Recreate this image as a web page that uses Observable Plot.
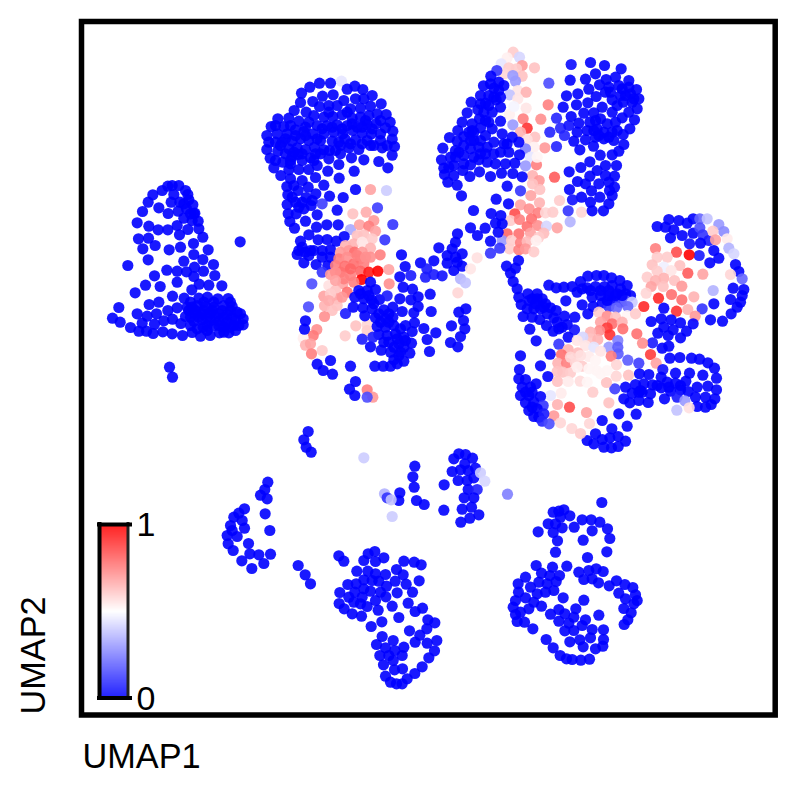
<!DOCTYPE html>
<html><head><meta charset="utf-8">
<script src="https://cdn.jsdelivr.net/npm/d3@7"></script>
<script src="https://cdn.jsdelivr.net/npm/@observablehq/plot@0.6"></script>
<style>html,body{margin:0;background:#fff}svg{display:block}</style>
</head><body><div id="chart"></div>
<script>
// Points, cluster by cluster: [u, v] (expression 0) or [u, v, expression].
// u/v are read-off units local to each cluster (3 units = 1 unit of the shared UMAP axes).
const bell = [[245,45],[265,45],[232,47],[215,60],[187,73],[285,60],[292,72],[250,72],[173,95],[242,95],[268,95],[295,88],[307,103],[205,112],[156,123],[233,129],[263,122],[288,115],[313,128],[140,157],[280,143],[305,150],[323,152],[175,167],[260,165],[203,178],[232,178],[292,177],[325,175],[267,193],[337,200],[144,205],[174,203],[194,225],[157,235],[236,238],[270,230],[309,219],[310,252],[353,238],[173,268],[280,272],[337,267],[112,285],[369,282],[229,299],[260,302],[288,304],[312,290],[339,302],[310,318],[373,315],[192,316],[260,335],[165,344],[209,348],[326,341],[355,344],[394,346],[304,358],[134,367],[246,377],[281,383],[325,383],[351,380],[382,385],[413,384],[176,402],[205,395],[85,411],[232,420],[260,412],[300,395],[320,405],[345,408],[370,410],[400,405],[425,408],[295,420],[140,430],[170,437],[198,430],[66,443],[89,455],[246,446],[285,438],[310,428],[335,430],[360,428],[385,430],[410,432],[440,425],[155,458],[192,461],[220,451],[271,459],[310,452],[335,448],[360,450],[385,452],[410,455],[435,450],[458,445],[120,471],[145,482],[168,482],[188,489],[217,484],[245,490],[276,495],[305,486],[330,497],[359,495],[387,487],[415,487],[435,480],[458,463],[338,470],[370,465],[400,470],[430,465],[237,590],[246,620],[449,214],[290,410],[315,420],[340,420],[365,420],[395,420],[420,420],[300,440],[325,440],[350,440],[375,440],[400,442],[425,442],[450,430],[300,465],[350,465],[385,465],[415,470],[445,465],[320,475],[280,100],[310,130],[300,130],[350,480],[400,485],[420,395],[370,395],[340,395],[305,410]];
const cap = [[258,32,.45],[192,38],[225,38],[163,50],[138,68],[275,56],[298,47],[322,57],[350,75],[201,77],[233,73],[300,85],[325,85],[135,96],[172,93],[265,90],[377,100],[192,108],[220,105],[245,105],[315,113],[345,107],[285,115],[116,120],[152,125],[392,132],[67,145],[100,143],[175,135],[205,140],[232,138],[260,133],[290,143],[315,140],[340,135],[365,130],[404,155],[47,168],[85,168],[130,152],[160,155],[185,165],[215,165],[245,163],[275,165],[305,170],[335,162],[362,160],[390,172],[34,195],[65,190],[95,190],[120,178],[145,183],[172,190],[205,190],[235,185],[262,190],[292,180],[320,188],[348,190],[375,190],[412,182],[40,215],[80,215],[110,212],[135,205],[160,210],[195,210],[230,212],[268,205],[300,208],[335,210],[375,210],[410,206],[34,237],[67,242],[100,235],[125,232],[150,237],[177,230],[205,238],[222,240],[255,225],[280,232],[310,237],[345,225],[380,232],[417,228],[44,263],[82,275],[110,258],[128,252],[165,262],[195,250],[220,265],[255,250],[288,262],[325,268],[370,273],[410,254],[55,292],[105,280],[130,297],[160,297],[185,285],[250,282],[100,298],[76,315],[217,302],[296,302],[397,292],[105,325],[140,330],[180,321],[251,323],[94,348],[158,350],[205,344],[128,360],[97,373],[300,357],[345,357,.68],[393,360,.4],[152,381],[181,370],[222,377],[263,381],[95,402],[120,395],[200,400,.12],[366,412,.12],[145,415],[167,405],[98,430],[122,430],[185,433],[245,419],[292,430,.62],[332,425,.66],[355,450,.7],[103,453],[150,452],[412,462,.1],[117,473],[183,470],[214,463],[248,463],[285,477,.33],[312,463,.68],[340,467,.75],[360,482,.68],[220,125],[275,125],[330,150],[375,150],[60,215],[60,165],[105,165],[150,170],[200,175],[230,170],[260,175],[290,160],[320,170],[350,175],[90,205],[120,195],[150,195],[185,205],[250,215],[285,220],[320,220],[355,225],[395,225],[90,250],[115,245],[140,250],[180,250],[240,240],[75,225],[140,270],[105,270],[60,270],[175,270],[115,345],[130,410],[110,380],[170,390],[140,395]];
const midLeft = [[70,103],[45,122],[98,118],[125,117],[152,122],[176,108],[35,162],[60,155],[85,150],[110,150],[135,147],[55,187],[92,192],[127,195],[50,140],[70,165],[40,150],[75,150],[110,170],[135,170],[110,215,.1],[79,250,.15],[69,319,.15],[298,118,.1],[215,105,.62],[235,103,.62],[260,115,.6],[180,135,.65],[205,130,.65],[230,125,.55],[255,143,.65],[165,155,.7],[190,150,.7],[207,155,.78],[230,155,.7],[284,163,.75],[255,170,.72],[160,175,.75],[185,170,.72],[225,175,.75],[150,195,.75],[178,197,.78],[205,190,.78],[235,190,.75],[310,207,.68],[135,222,.7],[165,215,.78],[195,225,.75],[225,212,.8],[250,215,.95],[277,212,1],[228,237,1],[130,255,.56],[172,250,.68],[205,245,.75],[311,250,.72],[150,270,.62],[185,275,.78],[115,287,.68],[155,295,.68],[117,316,.65],[140,330,.62],[155,315,.62],[117,348,.72],[150,215,.72],[175,235,.75],[195,205,.8],[215,165,.75],[240,170,.72],[150,240,.68],[135,280,.6],[130,300,.66],[170,290,.7],[94,387,.72],[83,405,.76],[53,413,.53],[60,434,.65],[75,430,.68],[110,450,.6],[78,460,.75],[211,376,.62],[245,372,.58],[245,390,.6],[179,406,.6],[255,245],[220,270],[245,270],[270,267],[208,290],[235,295],[258,298],[282,297],[305,286,.05],[343,295],[203,320],[232,322],[260,325],[295,328],[322,320],[180,339,.05],[238,346],[270,352],[300,355],[322,350],[350,333],[275,378],[300,380],[325,375],[360,375],[387,367],[385,337],[415,384],[280,402],[305,405],[330,400],[355,410],[380,393],[310,425],[340,430],[378,428],[425,417],[451,397],[255,439],[287,449],[315,455],[345,455],[373,458],[432,453],[325,478],[355,482],[335,490],[268,497],[293,497],[315,497],[225,280],[250,285],[265,310],[280,340],[310,340],[285,365],[310,365],[345,385],[335,415],[360,420],[295,425],[325,440],[355,440],[340,465],[230,416,.05],[262,410,.05],[348,163],[359,198],[343,229],[376,225,.05],[353,260],[381,266],[398,289],[376,298],[398,318],[434,281],[437,333],[405,187],[445,181],[424,205,.05],[420,230,.05],[445,222,.05],[470,226,.03],[460,142],[485,165],[500,145],[510,125],[516,100],[530,160],[485,188],[510,170],[505,210],[530,197],[515,185],[555,205,.55],[575,172,.56],[525,235,.35],[540,247,.38],[517,277,.58],[520,335],[541,325],[534,360],[538,385],[498,376],[525,408],[495,426],[517,439],[195,497],[135,480],[95,491],[113,510],[141,521],[210,543],[192,566],[208,585],[245,568,.75],[262,590,.7],[245,590,.15],[60,361],[57,386]];
const topRightPink = [[248,35,.6],[230,52,.53],[267,50,.42],[212,70,.45],[275,75,.7],[312,82,.62],[235,82,.6],[222,100,.58],[258,85,.6],[275,107,.62],[247,105,.3],[255,122,.3],[262,150,.55],[287,155,.65],[237,163,.38],[262,175,.55],[287,203,.55],[237,222,.53],[250,198,.48],[199,90,.1],[353,193,.75],[355,128,.15],[278,235,.75],[331,236,.72],[247,253,.3],[290,263,.9],[270,275,.65],[313,290,.62],[290,297,.56],[343,322,.7],[310,320,.53],[285,325,.25],[300,350,.45],[285,376,.3],[318,373,.75],[320,350,.52],[306,405,.65],[372,410,.82],[326,420,.7],[306,430,.62],[328,447,.62],[301,465,.68],[270,451,.1],[387,480,.6],[327,487,.65],[270,493,.68],[296,505,.72],[323,517,.75],[253,520,.85],[240,540,.6],[267,537,.75],[345,517,.58],[367,515,.6],[303,535,.78],[290,558,.78],[322,555,.72],[348,557,.42],[380,562,.68],[453,515,.58],[419,544,.35],[413,511,.1],[230,580,.8],[265,580,.78],[300,578,.68],[340,578,.63],[325,590,.6],[215,600,.3],[243,600,.6],[270,607,.75],[290,603,.63],[317,600,.53],[237,625,.6],[265,628,.75],[285,625,.7],[310,634,.6],[208,623,.1],[180,638,.1],[180,602],[203,575],[215,550],[195,548],[211,525],[182,519],[164,563],[141,585],[120,562],[129,510],[197,476],[234,490],[93,466],[230,437]];
const topLeftLobe = [[181,107],[205,125],[159,136],[220,135],[190,143],[150,165],[205,150],[122,185],[175,165],[165,188],[197,178],[210,200],[142,208],[185,215],[110,217],[160,215],[147,235],[210,242],[95,245],[175,245],[125,250],[82,270],[115,275],[150,262],[185,265],[57,291],[100,288],[130,300],[165,285],[215,280],[245,290],[80,302],[145,320],[190,305],[220,310],[37,323],[100,315],[120,325],[170,320],[60,350],[85,335],[210,335],[235,335],[265,305],[267,343],[33,358],[70,375],[100,345],[145,358],[170,365],[195,370],[225,370],[253,368],[40,383],[97,390],[120,373],[42,402],[70,405],[147,394],[118,408],[180,408],[213,398],[247,399],[275,409],[52,425],[80,434],[130,350],[150,340],[180,130],[190,170],[150,190],[125,270],[130,275],[75,330],[100,370],[165,340],[190,340],[230,310],[75,350],[55,380],[175,195],[210,170],[165,240],[120,300],[150,300]];
const topRightLobe = [[422,72,.02],[480,66],[522,75],[572,85],[495,100],[419,119],[465,116],[527,117],[555,110],[595,120],[507,133],[535,140],[565,135],[475,146],[408,166],[442,160],[525,155],[595,140],[618,147],[497,168],[545,178],[570,165],[600,160],[625,175],[398,200],[438,193],[472,187],[515,200],[578,185],[620,205],[605,185],[460,218],[490,217],[545,215],[378,233,.07],[422,228],[510,235],[575,232],[612,238],[390,263,.07],[415,255,.03],[445,248],[478,245],[530,250],[555,245],[598,265],[358,275,.07],[440,275],[470,270],[500,265],[520,275],[545,275],[578,282],[402,285,.07],[430,302],[465,298],[495,290],[520,295],[550,300],[580,312],[378,318,.07],[448,328],[489,317],[565,332],[509,344],[545,343],[478,364],[451,381],[525,375],[558,375],[416,394],[500,390],[478,407],[525,405],[552,407],[441,423],[465,430],[505,430],[535,425],[552,440],[417,447],[483,451],[537,450],[453,470],[508,470],[545,465],[426,478,.03],[480,485],[535,490],[485,511],[519,511],[575,145],[585,165],[610,175],[560,195],[540,155],[495,240],[490,270],[505,285],[535,290],[560,270],[595,215]];
const rightRing = [[505,57],[535,60],[578,55],[560,68],[470,78],[495,80],[520,88],[545,105],[510,112],[578,98],[598,55,.2],[620,55,.38],[598,82,.15],[655,72,.3],[670,93,.27],[607,103,.1],[625,120,.05],[600,128],[567,130,.03],[637,92,.6],[645,118,.68],[680,115,.54],[640,150],[685,143,.35],[700,160,.42],[655,173],[628,187],[596,165,.05],[465,144,.75],[528,155,.85],[566,163,1],[705,192],[715,213],[725,235,.2],[690,222,.58],[500,170,.6],[470,170,.6],[455,193,.62],[490,200,.47],[538,195,.62],[512,210,.55],[470,212,.6],[562,218,.82],[607,221,.68],[440,230,.6],[490,233,.65],[465,240,.65],[522,240,.62],[452,258,.68],[488,258,.62],[544,257,.7],[698,263],[730,267],[725,285],[638,270,.35],[437,278,.58],[513,282,.78],[474,293,.92],[580,289,.65],[544,298,.78],[690,297],[720,305],[640,310],[710,320],[430,318,.92],[490,323],[605,325,.1],[528,332,.9],[562,327,.65],[692,340],[584,347,.7],[630,358],[666,362],[452,363],[482,355],[512,358],[540,367],[578,370],[490,380],[518,388],[472,398],[503,405],[558,392],[540,412],[456,427,.05],[505,437],[485,443],[450,462,.88],[467,488,.68],[508,473],[538,471],[573,473],[597,476],[622,487],[642,503],[382,479,.18],[415,488,.12],[417,520],[445,522],[487,507,.03],[482,530],[525,518],[567,518],[607,524],[648,533],[405,552],[430,550],[456,553],[500,545],[525,548],[556,542],[590,560],[622,557],[648,568],[375,560],[395,578],[425,575],[450,580],[482,562],[510,572],[540,568],[563,573],[343,565,.12],[370,595],[388,607],[415,600],[443,606],[492,595],[530,590,.05],[585,590],[615,590],[643,595],[632,612],[553,601,.3],[590,618],[615,620],[566,622,.56],[529,629,.38],[355,640],[407,641],[380,677],[305,660],[334,685],[285,700],[260,720],[280,730],[305,717],[328,712],[353,708],[375,722],[310,740],[333,742],[353,738],[420,570],[470,555],[505,560],[540,555],[415,575]];
const centerBlob = [[145,254],[167,262],[190,260],[215,258],[240,243],[262,227],[288,225],[310,225],[333,232],[358,240],[380,255],[390,285],[230,275],[260,262],[285,258],[312,258],[335,255],[360,265],[275,290],[300,285],[325,285],[350,280],[375,280],[196,301],[245,313],[278,318],[305,308],[335,300],[360,305,.1],[375,300,.2],[395,305,.4],[325,318,.1],[348,322,.2],[382,318,.2],[262,340],[380,345,.52],[405,340,.6],[54,180],[18,197],[45,203],[30,218],[38,243],[50,265],[82,280],[110,280],[55,290],[95,295],[125,295],[62,312],[105,310],[135,310],[80,325],[120,325],[150,322],[167,330],[68,348],[95,350],[118,357],[160,352],[192,347],[223,350],[138,375],[158,392],[185,380],[200,372],[88,386],[222,388,.03],[203,410],[107,421],[175,431,.1],[85,300],[110,295],[130,320],[100,325],[140,340],[170,365],[175,385],[245,265],[270,270],[300,270],[325,270],[345,285],[365,285],[320,300]];
const centerPale = [[295,335,.6],[320,347,.72],[345,350,.62],[300,365,.68],[335,370,.78],[365,365,.65],[320,382,.88],[367,385,.78],[297,390,.72],[270,395,.65],[328,403,.9],[409,400,.78],[270,415,.62],[292,417,.65],[247,410,.42],[230,420,.55],[255,435,.55],[426,428,.72],[352,420,.25],[325,440,.3],[352,440,.18],[353,460,.18],[203,447,.65],[183,462,.78],[232,457,.63],[280,440,.45],[300,452,.55],[265,468,.54],[332,467,.75],[149,461],[60,466],[120,496],[172,488,.65],[198,488,.75],[225,488,.58],[245,497,.6],[348,493,.58],[170,513,.62],[187,515,.62],[210,517,.6],[288,510,.52],[142,528],[347,527,.58],[384,524,.62],[171,543,.62],[203,543,.54],[239,542,.57],[318,546,.62],[277,575,.6],[182,578,.54],[150,585,.45],[325,607,.62],[171,612,.65],[207,620,.85],[258,636,.68],[160,646,.7],[180,667,.58],[267,669,.58],[214,684,.58],[240,699,.6],[230,500,.53],[265,505,.52],[285,480,.52],[260,545,.52],[300,520,.52],[320,510,.52],[240,465,.56],[210,470,.58],[57,507],[55,535],[75,537],[107,550],[65,560],[90,560],[60,585],[85,585],[120,588],[75,607],[100,605],[75,575],[95,575],[95,620],[115,650],[128,615,.1],[85,630],[110,625],[100,648],[130,640,.05],[125,662,.07],[146,670,.15]];
const lowerMiddle = [[293,33],[280,58],[287,80],[302,95],[460,112,.4],[172,185],[163,207],[150,224],[170,235],[102,265],[85,278],[70,290],[95,300],[60,315],[102,323],[65,330],[50,345],[80,348],[53,370],[68,390],[164,280],[178,330],[114,369],[118,400],[145,403],[180,401],[94,421],[160,429],[124,444],[263,435],[284,463],[300,490],[385,406],[400,422],[473,400],[493,393],[460,420],[495,423],[520,412],[580,422],[611,425],[632,433],[439,452],[472,452],[495,460],[525,462],[558,447],[578,463],[412,492],[437,490],[460,478],[485,480],[505,482],[528,497],[554,482],[587,491],[626,481],[388,516],[433,515],[460,505],[480,512],[510,515],[415,530],[526,529],[560,517],[606,515],[386,549],[430,545],[455,530],[495,540],[470,558],[450,550],[401,565],[545,557],[593,548],[636,563],[614,573],[425,580],[453,587],[503,569],[565,591],[482,618],[514,604],[652,598],[673,607],[649,625],[597,631],[628,644],[515,648],[498,672],[548,660],[614,665],[650,668],[679,660],[525,682],[553,690],[580,680],[672,691],[508,705],[535,705],[575,705],[655,712],[548,720],[519,733],[576,745],[635,739],[552,748],[613,759],[525,767],[590,775],[540,785],[558,790],[575,790]];
const lowerRight = [[42,160,.35],[50,172,.1],[88,157],[85,180],[62,178,.38],[65,228,.4],[133,77],[127,109],[131,140],[138,180],[161,192],[221,133],[220,209],[265,40],[285,42],[306,53],[250,55],[283,70],[315,83],[245,93],[270,88],[293,90],[310,112],[263,120],[290,120],[330,97,.4],[343,122,.42],[293,147],[320,147,.06],[281,172],[310,172],[303,200],[275,206],[325,223],[298,233],[271,245],[411,161,.25],[694,186],[548,215],[565,212],[580,208],[598,226],[570,230],[533,250],[555,250],[575,262],[503,274],[548,276],[611,260],[635,238],[662,238],[688,245],[665,271],[711,265],[718,294],[561,301],[638,299],[555,335],[709,334],[651,351],[497,375],[546,380],[589,377],[625,395],[655,390],[677,385],[698,393],[640,417],[665,415],[684,427],[513,398],[538,405],[567,405],[465,410],[443,430],[480,440],[505,425],[530,430],[557,423],[716,436],[738,421],[763,432],[787,441],[444,455],[500,460],[525,455],[550,450],[745,458],[795,463],[765,475],[800,480],[465,472],[490,485],[513,497],[578,472],[640,479],[435,480],[428,500],[475,505],[760,504],[790,490],[782,517],[435,522],[450,515],[540,521],[565,507],[616,505],[685,524],[583,520],[610,530],[440,543],[462,545],[565,542],[595,548],[645,538],[772,538],[761,552],[487,565],[583,571],[610,570],[635,555],[665,567],[699,568],[527,597],[598,604],[628,598],[660,592],[699,597],[548,622],[638,619],[675,625],[697,617],[569,645],[588,655],[605,657],[631,659],[657,656]];

// Where each cluster's read-off units start on the UMAP axes
const clusters = [
  [90,170,bell],[255,70,cap],[285,200,midLeft],[430,40,topRightPink],[430,40,topLeftLobe],[430,40,topRightLobe],
  [500,200,rightRing],[500,200,centerBlob],[500,200,centerPale],[210,420,lowerMiddle],[370,440,lowerRight]
];
const points = clusters.flatMap(([ox, oy, list]) =>
  list.map(([u, v, e = 0]) => ({umap1: ox + u / 3, umap2: oy + v / 3, expr: e})));

const barX = [100, 127], barY0 = 697.5, barLen = 173.5;
const rampStops = d3.range(0, barLen).map(i => (i + 0.5) / barLen);
const legendTicks = [{e: 1, label: "1"}, {e: 0, label: "0"}];
const yOf = e => barY0 - e * barLen;
const font = "'Liberation Sans', Arial, sans-serif";

const chart = Plot.plot({
  width: 796, height: 796,
  marginLeft: 81, marginRight: 21.3, marginTop: 21, marginBottom: 81.5,
  x: {domain: [81, 774.7], axis: null},
  y: {domain: [714.5, 21], axis: null},
  color: {type: "linear", domain: [0, .5, 1], range: ["#0000ff", "#ffffff", "#ff0000"]},
  style: {fontFamily: font, background: "#fff"},
  marks: [
    Plot.dot(points, {x: "umap1", y: "umap2", r: 5.6, fill: "expr", fillOpacity: 0.9, stroke: null}),
    Plot.rect(rampStops, {x1: barX[0], x2: barX[1], y1: e => yOf(e) + 0.5, y2: e => yOf(e) - 0.5, fill: e => e, fillOpacity: 0.87, shapeRendering: "crispEdges"}),
    Plot.ruleX([barX[0] - 1], {y1: yOf(0) + 2, y2: yOf(1) - 2, stroke: "#000", strokeWidth: 4}),
    Plot.ruleX([barX[1] + 0.5], {y1: yOf(0) + 2, y2: yOf(1) - 2, stroke: "#222", strokeWidth: 3}),
    Plot.ruleY(legendTicks, {y: d => yOf(d.e), x1: barX[0] - 3, x2: barX[1] + 5, stroke: "#000", strokeWidth: 4}),
    Plot.text(legendTicks, {x: 136, y: d => yOf(d.e) + 1, text: "label", textAnchor: "start", fontSize: 34, fill: "#000", lineAnchor: "middle"}),
    Plot.text(["UMAP1"], {x: 82, y: 757, text: d => d, textAnchor: "start", fontSize: 34.3, fill: "#000", lineAnchor: "middle"}),
    Plot.text(["UMAP2"], {x: 34, y: 714, text: d => d, textAnchor: "start", rotate: -90, fontSize: 34.3, fill: "#000", lineAnchor: "middle"}),
    Plot.frame({stroke: "#000", strokeWidth: 5.5})
  ]
});
document.getElementById("chart").append(chart);
</script>
</body></html>
